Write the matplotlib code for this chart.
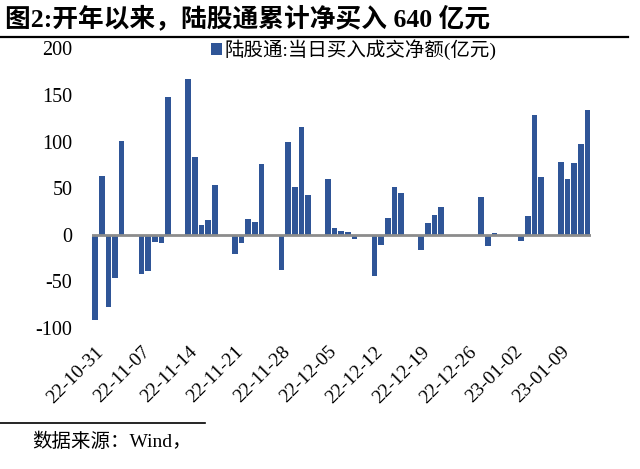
import pandas as pd
import matplotlib
matplotlib.use("Agg")
from matplotlib import pyplot as plt
from matplotlib.patches import Patch
from matplotlib.lines import Line2D

# daily northbound net buy (100m CNY)
dates = ["2022-10-31", "2022-11-01", "2022-11-02", "2022-11-03", "2022-11-04",
         "2022-11-07", "2022-11-08", "2022-11-09", "2022-11-10", "2022-11-11",
         "2022-11-14", "2022-11-15", "2022-11-16", "2022-11-17", "2022-11-18",
         "2022-11-21", "2022-11-22", "2022-11-23", "2022-11-24", "2022-11-25",
         "2022-11-28", "2022-11-29", "2022-11-30", "2022-12-01", "2022-12-02",
         "2022-12-05", "2022-12-06", "2022-12-07", "2022-12-08", "2022-12-09",
         "2022-12-12", "2022-12-13", "2022-12-14", "2022-12-15", "2022-12-16",
         "2022-12-19", "2022-12-20", "2022-12-21", "2022-12-22",
         "2022-12-28", "2022-12-29", "2022-12-30",
         "2023-01-03", "2023-01-04", "2023-01-05", "2023-01-06",
         "2023-01-09", "2023-01-10", "2023-01-11", "2023-01-12", "2023-01-13"]
net_buy = [-91, 63, -77, -46, 101,
           -42, -39, -8, -9, 148,
           167, 83, 11, 16, 53,
           -21, -9, 17, 14, 76,
           -38, 99, 51, 116, 43,
           60, 7, 4, 3, -4,
           -44, -11, 18, 51, 45,
           -16, 13, 21, 30,
           41, -12, 2,
           -7, 20, 129, 62,
           78, 60, 77, 97, 134]
tick_start = "2022-10-31"
n_ticks = 11
yticks = [-100, -50, 0, 50, 100, 150, 200]

title = "图2:开年以来，陆股通累计净买入 640 亿元"
legend_label = "陆股通:当日买入成交净额(亿元)"
source = "数据来源：Wind，"

bar_color = "#2f5597"
mixed = ["Liberation Serif", "Noto Sans CJK SC", "DejaVu Sans"]

x = pd.to_datetime(dates)
ticks = pd.date_range(tick_start, periods=n_ticks, freq="7D")

fig = plt.figure(figsize=(6.4, 4.69), dpi=100)
ax = fig.add_axes([0.1433, 0.3006, 0.78, 0.5964])

ax.bar(x, net_buy, width=0.85, color=bar_color, zorder=2)
ax.axhline(0, color="#8c8c8c", lw=2, zorder=3)

ax.set_xlim(x[0] - pd.Timedelta(hours=12), x[-1] + pd.Timedelta(hours=12))
ax.set_ylim(-100, 200)
ax.set_yticks(yticks)
ax.set_yticklabels([str(v) for v in yticks], fontfamily="Liberation Serif", fontsize=14.5)
ax.set_xticks(ticks)
ax.set_xticklabels([t.strftime("%y-%m-%d") for t in ticks], rotation=45, ha="right",
                   va="top", rotation_mode="anchor", fontfamily="Liberation Serif", fontsize=14)
ax.tick_params(axis="y", length=0, pad=14)
ax.tick_params(axis="x", length=0, pad=11)
for s in ax.spines.values():
    s.set_visible(False)

handle = Patch(facecolor=bar_color, edgecolor="none")
fig.legend([handle], [legend_label], loc="upper left", bbox_to_anchor=(0.33, 0.917),
           frameon=False, handlelength=0.55, handleheight=0.55, handletextpad=0.15,
           borderpad=0, borderaxespad=0, prop={"family": mixed, "size": 14})

fig.text(0.008, 0.960, title, fontfamily=mixed, fontsize=18.5, fontweight="bold",
         ha="left", va="center")
fig.add_artist(Line2D([0.0, 0.982], [0.921, 0.921], color="black", lw=1.6))
fig.add_artist(Line2D([0.0, 0.32], [0.098, 0.098], color="black", lw=1.2))
fig.text(0.05, 0.058, source, fontfamily=mixed, fontsize=14, ha="left", va="center")

fig.savefig("out.png", dpi=100)
